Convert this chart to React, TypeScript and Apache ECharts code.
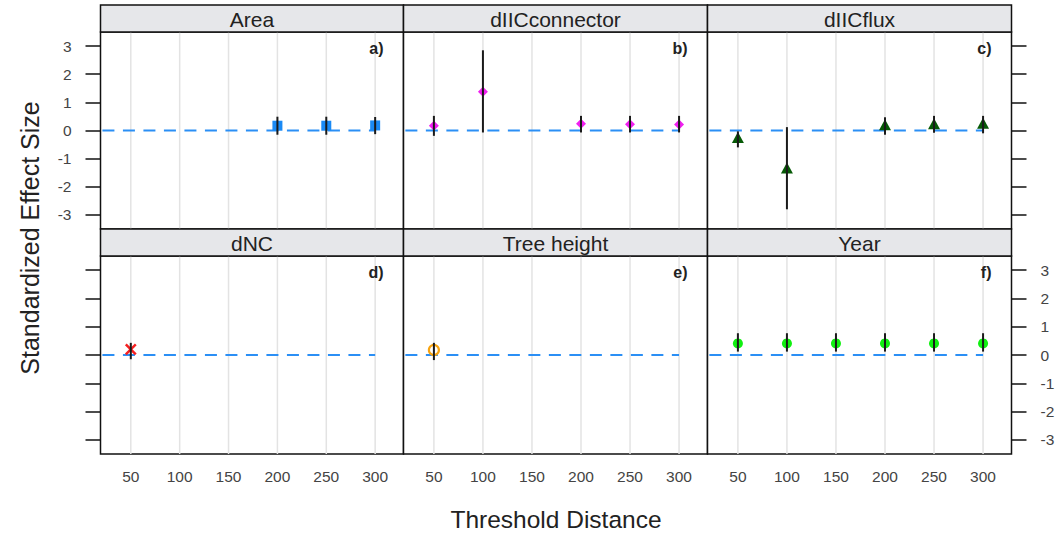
import React, { useEffect, useRef } from "react";
import * as echarts from "echarts";

// ---------- data ----------
const xTicks = [50, 100, 150, 200, 250, 300];
const yTicks = [-3, -2, -1, 0, 1, 2, 3];
const panelNames = ["Area", "dIICconnector", "dIICflux", "dNC", "Tree height", "Year"];
const panelTags = ["a)", "b)", "c)", "d)", "e)", "f)"];

const areaX = [200, 250, 300];
const areaEst = [0.17, 0.17, 0.18];
const areaLo = [-0.15, -0.15, -0.13];
const areaHi = [0.49, 0.49, 0.48];

const connX = [50, 100, 200, 250, 300];
const connEst = [0.17, 1.38, 0.24, 0.22, 0.21];
const connLo = [-0.19, -0.07, -0.07, -0.07, -0.07];
const connHi = [0.52, 2.85, 0.52, 0.52, 0.52];

const fluxX = [50, 100, 200, 250, 300];
const fluxEst = [-0.25, -1.33, 0.2, 0.24, 0.26];
const fluxLo = [-0.6, -2.8, -0.15, -0.08, -0.1];
const fluxHi = [-0.03, 0.12, 0.47, 0.52, 0.52];

const dncX = [50];
const dncEst = [0.2];
const dncLo = [-0.15];
const dncHi = [0.43];

const treeX = [50];
const treeEst = [0.18];
const treeLo = [-0.18];
const treeHi = [0.43];

const yearX = [50, 100, 150, 200, 250, 300];
const yearEst = [0.41, 0.41, 0.41, 0.41, 0.41, 0.41];
const yearLo = [0.12, 0.12, 0.12, 0.12, 0.12, 0.12];
const yearHi = [0.77, 0.77, 0.77, 0.77, 0.77, 0.77];

const refLineX = [0, 300];
const refLineY = [0, 0];

const panelData = [
  { x: areaX, est: areaEst, lo: areaLo, hi: areaHi },
  { x: connX, est: connEst, lo: connLo, hi: connHi },
  { x: fluxX, est: fluxEst, lo: fluxLo, hi: fluxHi },
  { x: dncX, est: dncEst, lo: dncLo, hi: dncHi },
  { x: treeX, est: treeEst, lo: treeLo, hi: treeHi },
  { x: yearX, est: yearEst, lo: yearLo, hi: yearHi },
];

// ---------- styles ----------
const FONT = '"Liberation Sans", Arial, Helvetica, sans-serif';
const markerStyles: any[] = [
  { symbol: "rect", symbolSize: 10, itemStyle: { color: "#1a8af5", opacity: 1 } },
  { symbol: "diamond", symbolSize: [10, 10], itemStyle: { color: "#f020f0", opacity: 1 } },
  { symbol: "triangle", symbolSize: [12, 11], itemStyle: { color: "#065a06", opacity: 1 } },
  {
    symbol: "path://M0,0L10,10M10,0L0,10",
    symbolSize: 10,
    itemStyle: { color: "none", borderColor: "#f52020", borderWidth: 2.5, opacity: 1 },
  },
  {
    symbol: "circle",
    symbolSize: 10,
    itemStyle: { color: "rgba(255,255,255,0)", borderColor: "#f7a310", borderWidth: 2.2, opacity: 1 },
  },
  { symbol: "circle", symbolSize: 10, itemStyle: { color: "#10f010", opacity: 1 } },
];

const colX = [100.5, 403.5, 707.5];
const colW = [303, 304, 304];
const stripTop = [5, 229];
const stripH = 27;
const plotTop = [32, 256];
const plotH = [197, 198];

export default function App() {
  const ref = useRef<HTMLDivElement>(null);
  useEffect(() => {
    if (!ref.current) return;
    const chart = echarts.init(ref.current, null, { renderer: "svg" });

    const grids: any[] = [];
    const xAxes: any[] = [];
    const yAxes: any[] = [];
    const series: any[] = [];
    const graphics: any[] = [];

    for (let i = 0; i < 6; i++) {
      const r = Math.floor(i / 3);
      const c = i % 3;
      grids.push({
        left: colX[c],
        top: plotTop[r],
        width: colW[c],
        height: plotH[r],
        show: true,
        backgroundColor: "#fff",
        borderColor: "#111",
        borderWidth: 1.5,
      });
      xAxes.push({
        gridIndex: i,
        type: "value",
        min: 19,
        max: 329,
        axisLine: { show: false },
        axisTick: { show: false },
        splitLine: { show: false },
        axisLabel: {
          show: r === 1,
          customValues: xTicks,
          margin: 14,
          color: "#444",
          fontSize: 15.5,
          fontFamily: FONT,
        },
      });
      const yShow = c !== 1;
      yAxes.push({
        gridIndex: i,
        type: "value",
        min: -3.5,
        max: 3.5,
        show: yShow,
        position: c === 2 ? "right" : "left",
        axisLine: { show: false },
        splitLine: { show: false },
        axisTick: {
          show: yShow,
          customValues: yTicks,
          length: 15,
          inside: false,
          lineStyle: { color: "#111", width: 1.5 },
        },
        axisLabel: {
          show: (c === 0 && r === 0) || (c === 2 && r === 1),
          customValues: yTicks,
          margin: 29,
          color: "#444",
          fontSize: 15.5,
          fontFamily: FONT,
        },
      });

      // vertical grid lines
      series.push({
        type: "custom",
        xAxisIndex: i,
        yAxisIndex: i,
        z: 1,
        silent: true,
        data: xTicks.map((v) => [v]),
        renderItem: (params: any, api: any) => {
          const x = api.value(0);
          const p1 = api.coord([x, -3.5]);
          const p2 = api.coord([x, 3.5]);
          return {
            type: "line",
            shape: { x1: p1[0], y1: p1[1], x2: p2[0], y2: p2[1] },
            style: { stroke: "#e3e3e3", lineWidth: 1.5 },
          };
        },
      });

      // dashed reference line at 0
      series.push({
        type: "line",
        xAxisIndex: i,
        yAxisIndex: i,
        z: 2,
        silent: true,
        symbol: "none",
        clip: true,
        data: refLineX.map((x, k) => [x, refLineY[k]]),
        lineStyle: { color: "#2b8ff5", width: 2, type: [12, 8.5] },
      });

      const d = panelData[i];
      // markers
      series.push({
        type: "scatter",
        xAxisIndex: i,
        yAxisIndex: i,
        z: 3,
        ...markerStyles[i],
        data: d.x.map((x, k) => [x, d.est[k]]),
      });
      // error bars
      series.push({
        type: "custom",
        xAxisIndex: i,
        yAxisIndex: i,
        z: 4,
        data: d.x.map((x, k) => [x, d.lo[k], d.hi[k]]),
        renderItem: (params: any, api: any) => {
          const x = api.value(0);
          const p1 = api.coord([x, api.value(1)]);
          const p2 = api.coord([x, api.value(2)]);
          return {
            type: "line",
            shape: { x1: p1[0], y1: p1[1], x2: p2[0], y2: p2[1] },
            style: { stroke: "#1a1a1a", lineWidth: 2 },
          };
        },
      });

      // strip
      graphics.push({
        type: "rect",
        shape: { x: colX[c], y: stripTop[r], width: colW[c], height: stripH },
        style: { fill: "#e6e7ea", stroke: "#111", lineWidth: 1.5 },
        z: 10,
      });
      graphics.push({
        type: "text",
        x: colX[c] + colW[c] / 2,
        y: stripTop[r] + stripH / 2 + 1,
        style: {
          text: panelNames[i],
          font: `21px ${FONT}`,
          fill: "#222",
          align: "center",
          verticalAlign: "middle",
        },
        z: 11,
      });
      graphics.push({
        type: "text",
        x: colX[c] + colW[c] - 20,
        y: plotTop[r] + 16,
        style: {
          text: panelTags[i],
          font: `bold 16px ${FONT}`,
          fill: "#222",
          align: "right",
          verticalAlign: "middle",
        },
        z: 11,
      });
    }

    graphics.push({
      type: "text",
      x: 30,
      y: 238,
      rotation: Math.PI / 2,
      style: {
        text: "Standardized Effect Size",
        font: `25px ${FONT}`,
        fill: "#222",
        align: "center",
        verticalAlign: "middle",
      },
    });
    graphics.push({
      type: "text",
      x: 556,
      y: 519,
      style: {
        text: "Threshold Distance",
        font: `24.5px ${FONT}`,
        fill: "#222",
        align: "center",
        verticalAlign: "middle",
      },
    });

    chart.setOption({
      animation: false,
      backgroundColor: "#fff",
      grid: grids,
      xAxis: xAxes,
      yAxis: yAxes,
      series,
      graphic: graphics,
    });
    return () => chart.dispose();
  }, []);
  return (
    <div
      ref={ref}
      style={{ position: "absolute", left: 0, top: 0, width: 1059, height: 533 }}
    />
  );
}
